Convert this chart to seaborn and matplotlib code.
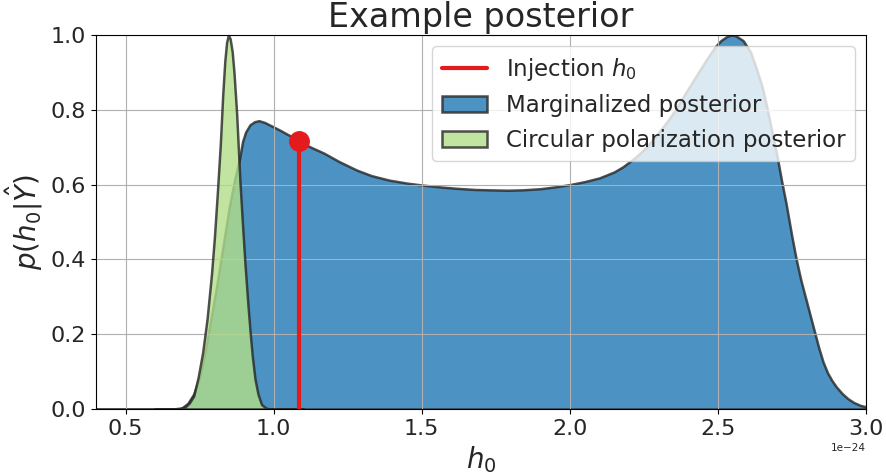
import seaborn as sns
import matplotlib
matplotlib.use("Agg")
import matplotlib.pyplot as plt

# marginalized posterior (x in units of 1e-24)
marg_x = [0.40, 0.66, 0.69, 0.71, 0.73, 0.75, 0.77, 0.79, 0.81, 0.83, 0.85, 0.87,
          0.885, 0.895, 0.905, 0.92, 0.935, 0.95, 0.97, 0.99, 1.02, 1.05, 1.085,
          1.12, 1.17, 1.22, 1.28, 1.33, 1.39, 1.45, 1.50, 1.56, 1.62, 1.68, 1.73,
          1.79, 1.84, 1.90, 1.95, 2.00, 2.05, 2.10, 2.15, 2.18, 2.22, 2.26, 2.30,
          2.33, 2.36, 2.39, 2.43, 2.46, 2.49, 2.51, 2.53, 2.545, 2.56, 2.585, 2.61,
          2.63, 2.65, 2.665, 2.68, 2.70, 2.715, 2.73, 2.75, 2.765, 2.78, 2.80, 2.82,
          2.84, 2.855, 2.87, 2.885, 2.90, 2.92, 2.94, 2.96, 2.98, 3.00]
marg_y = [0.0, 0.0, 0.003, 0.015, 0.04, 0.085, 0.16, 0.25, 0.34, 0.44, 0.54, 0.62,
          0.67, 0.715, 0.74, 0.76, 0.768, 0.771, 0.766, 0.758, 0.746, 0.733, 0.718,
          0.702, 0.684, 0.662, 0.639, 0.624, 0.612, 0.604, 0.599, 0.594, 0.590, 0.587, 0.586,
          0.585, 0.586, 0.589, 0.594, 0.600, 0.608, 0.618, 0.634, 0.648, 0.672, 0.701, 0.740,
          0.770, 0.805, 0.844, 0.895, 0.933, 0.968, 0.985, 0.996, 1.0, 0.998, 0.985, 0.955,
          0.91, 0.86, 0.808, 0.75, 0.675, 0.610, 0.55, 0.46, 0.398, 0.345, 0.285, 0.225,
          0.165, 0.126, 0.097, 0.076, 0.059, 0.041, 0.027, 0.017, 0.010, 0.006]

# circular polarization posterior
circ_x = [0.60, 0.68, 0.70, 0.715, 0.73, 0.745, 0.76, 0.775, 0.79, 0.80, 0.81, 0.82,
          0.828, 0.835, 0.841, 0.847, 0.853, 0.86, 0.866, 0.875, 0.886, 0.895, 0.903,
          0.912, 0.92, 0.928, 0.937, 0.947, 0.959, 0.975, 0.99, 1.10]
circ_y = [0.0, 0.0, 0.005, 0.016, 0.035, 0.085, 0.15, 0.24, 0.36, 0.46, 0.58, 0.71,
          0.84, 0.93, 0.98, 1.0, 0.99, 0.955, 0.90, 0.79, 0.61, 0.49, 0.39,
          0.29, 0.21, 0.14, 0.08, 0.04, 0.012, 0.002, 0.0, 0.0]

inj_h0 = 1.085
inj_p = 0.716
scale = 1e-24

sns.set_style("ticks")
pal = sns.color_palette("Paired")
blue = pal[1]
green = pal[2]
red = sns.color_palette("Set1")[0]
edge = "#262626"

fig = plt.figure(figsize=(8.87, 4.75), dpi=100)
ax = fig.add_axes([0.1082, 0.1389, 0.8681, 0.7874])

h_marg = ax.fill_between([v * scale for v in marg_x], marg_y, color=blue, alpha=0.8,
                         edgecolor=edge, linewidth=1.8, label="Marginalized posterior", zorder=2)
h_circ = ax.fill_between([v * scale for v in circ_x], circ_y, color=green, alpha=0.8,
                         edgecolor=edge, linewidth=1.8,
                         label="Circular polarization posterior", zorder=3)
h_inj, = ax.plot([inj_h0 * scale, inj_h0 * scale], [0, inj_p], color=red, lw=3,
                 label=r"Injection $h_0$", zorder=4)
ax.plot([inj_h0 * scale], [inj_p], "o", color=red, ms=14, zorder=5)

ax.set_xlim(0.4e-24, 3.0e-24)
ax.set_ylim(0, 1)
ax.grid(True, color="#b0b0b0", lw=0.8, zorder=2.5)
ax.set_axisbelow(False)
for s in ax.spines.values():
    s.set_color("black")
    s.set_linewidth(0.8)
    s.set_zorder(6)
ax.tick_params(labelsize=16, length=3.5, width=0.8, color="black")
ax.xaxis.get_offset_text().set_fontsize(7.5)

ax.set_xlabel(r"$h_0$", fontsize=20)
ax.set_ylabel(r"$p(h_0|\hat{Y})$", fontsize=20)
ax.set_title("Example posterior", fontsize=24)
leg = ax.legend(handles=[h_inj, h_marg, h_circ], loc="upper right",
                fontsize=16.5, framealpha=0.8)
leg.set_zorder(10)

fig.savefig("out.png", dpi=100)
